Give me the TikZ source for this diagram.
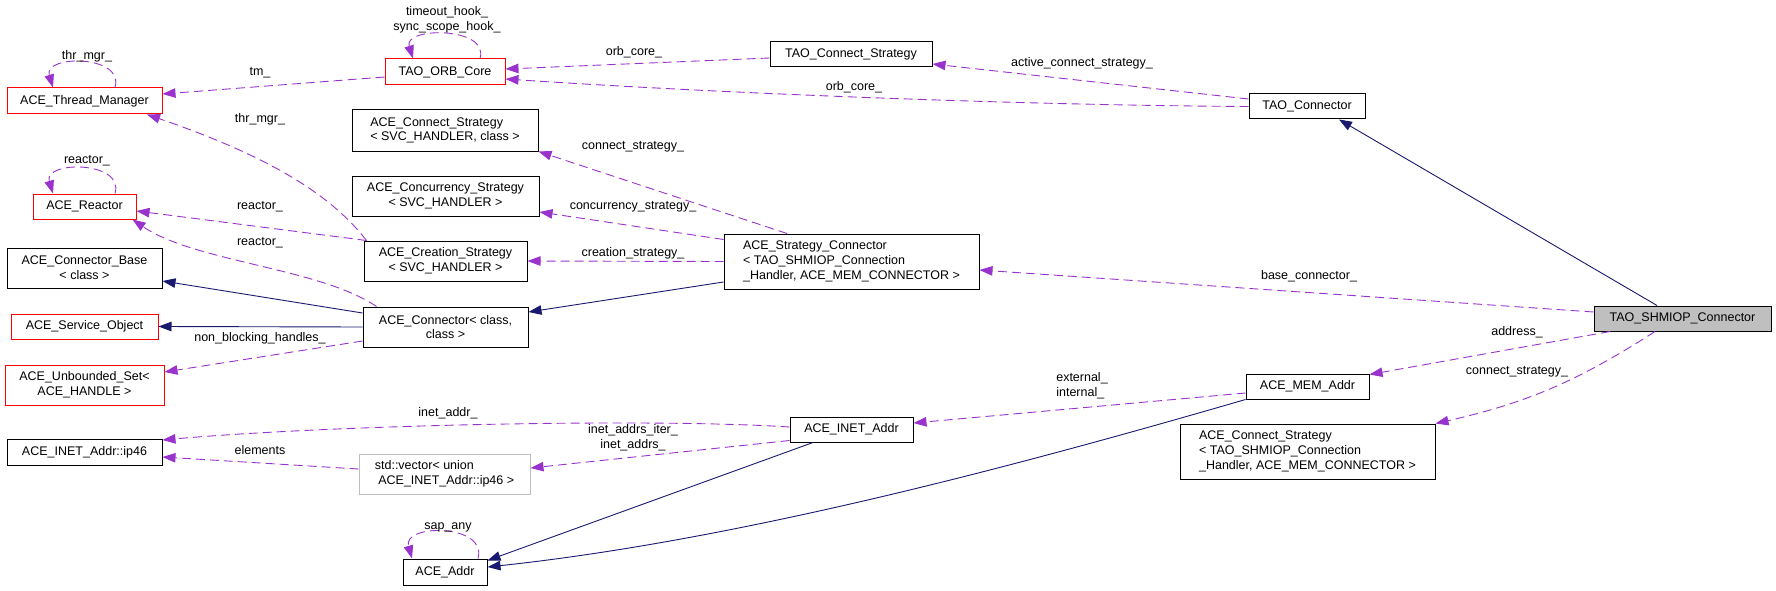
\documentclass[tikz,border=0pt]{standalone}
\usepackage{fontspec}
\setmainfont{Liberation Sans}
\usepackage{tikz}
\usetikzlibrary{arrows.meta}

\definecolor{orchid}{HTML}{9A32CD}
\definecolor{midnight}{HTML}{191970}
\definecolor{greybox}{HTML}{BFBFBF}

\tikzset{
  cls/.style={draw=black, line width=1pt, minimum height=25pt, inner sep=2pt, font=\fontsize{12.5}{14.7}\selectfont},
  redcls/.style={cls, draw=red},
  greycls/.style={cls, draw=greybox},
  dep/.style={draw=orchid, line width=0.9pt, dash pattern=on 9pt off 5pt, -{Triangle[length=13pt,width=9.5pt]}},
  inh/.style={draw=midnight, line width=0.9pt, -{Triangle[length=13pt,width=9.5pt]}},
  lbl/.style={inner sep=0pt, align=center, font=\fontsize{12.5}{14.7}\selectfont}
}

\begin{document}
\begin{tikzpicture}[x=1pt, y=-1pt]

\useasboundingbox (0,0) rectangle (1776,591);

% classes, left column
\node[redcls, minimum width=155pt, minimum height=26pt] (tm) at (84.5,101) {ACE\_Thread\_Manager};
\node[redcls, minimum width=103pt] (react) at (84.5,206.5) {ACE\_Reactor};
\node[cls, minimum width=155pt, minimum height=40pt, align=center] (base) at (84.5,268) {ACE\_Connector\_Base\\< class >};
\node[redcls, minimum width=147pt] (svc) at (84.5,326.5) {ACE\_Service\_Object};
\node[redcls, minimum width=159pt, minimum height=40pt, align=center] (uset) at (84.5,385) {ACE\_Unbounded\_Set<\\ACE\_HANDLE >};
\node[cls, minimum width=155pt, minimum height=26pt] (ip46) at (84.5,452) {ACE\_INET\_Addr::ip46};

% second column
\node[redcls, minimum width=120pt, minimum height=26pt] (orb) at (445,72) {TAO\_ORB\_Core};
\node[cls, minimum width=186pt, minimum height=41pt, align=left] (acs) at (445,130.5) {ACE\_Connect\_Strategy\\< SVC\_HANDLER, class >};
\node[cls, minimum width=187pt, minimum height=40pt, align=center] (aconc) at (445.5,196) {ACE\_Concurrency\_Strategy\\< SVC\_HANDLER >};
\node[cls, minimum width=163pt, minimum height=40pt, align=center] (acre) at (445.5,261) {ACE\_Creation\_Strategy\\< SVC\_HANDLER >};
\node[cls, minimum width=165pt, minimum height=40pt, align=center] (acon) at (445.5,327) {ACE\_Connector< class,\\class >};
\node[greycls, minimum width=171pt, minimum height=40pt, align=left] (vec) at (444.5,474) {std::vector< union\\\ ACE\_INET\_Addr::ip46 >};
\node[cls, minimum width=84pt, minimum height=26pt] (addr) at (445,572) {ACE\_Addr};

% third column
\node[cls, minimum width=162pt] (tcs) at (851,54.5) {TAO\_Connect\_Strategy};
\node[cls, minimum width=255pt, minimum height=55pt, align=left] (strat) at (851.5,261.5) {ACE\_Strategy\_Connector\\< TAO\_SHMIOP\_Connection\\\_Handler, ACE\_MEM\_CONNECTOR >};
\node[cls, minimum width=123pt] (inet) at (851.5,429.5) {ACE\_INET\_Addr};

% fourth and fifth column
\node[cls, minimum width=116pt] (tcon) at (1307,106.5) {TAO\_Connector};
\node[cls, minimum width=123pt] (mem) at (1307.5,386.5) {ACE\_MEM\_Addr};
\node[cls, minimum width=255pt, minimum height=55pt, align=left] (bcs) at (1307.5,451.5) {ACE\_Connect\_Strategy\\< TAO\_SHMIOP\_Connection\\\_Handler, ACE\_MEM\_CONNECTOR >};
\node[cls, fill=greybox, minimum width=177pt] (shm) at (1682.5,318.5) {TAO\_SHMIOP\_Connector};

% self loops
\draw[dep] ([xshift=30.5pt]tm.north) .. controls +(10,-33) and +(-10,-33) .. ([xshift=-31.5pt]tm.north);
\draw[dep] ([xshift=30.5pt]react.north) .. controls +(10,-33) and +(-10,-33) .. ([xshift=-31.5pt]react.north);
\draw[dep] ([xshift=35pt]orb.north) .. controls +(10,-32) and +(-10,-32) .. ([xshift=-32pt]orb.north);
\draw[dep] ([xshift=33pt]addr.north) .. controls +(10,-35) and +(-10,-35) .. ([xshift=-33pt]addr.north);

% members
\draw[dep] ([yshift=-5pt]orb.west) -- ([yshift=7pt]tm.east);
\draw[dep] ([yshift=-3.5pt]tcs.west) -- ([yshift=3pt]orb.east);
\draw[dep] (tcon.west) .. controls (1000,105) and (700,92) .. ([yshift=-7pt]orb.east);
\draw[dep] ([yshift=7.5pt]tcon.west) -- ([yshift=-9.5pt]tcs.east);
\draw[dep] ([yshift=6.5pt]shm.west) -- ([yshift=-8.5pt]strat.east);
\draw[dep] ([xshift=-72.5pt]shm.south) -- ([yshift=-1pt]mem.north east);
\draw[dep] ([xshift=-27.5pt]shm.south) to[bend left=10] (bcs.north east);
\draw[dep] ([xshift=-64.5pt]strat.north) -- (acs.south east);
\draw[dep] ([yshift=-6pt]strat.north west) -- ([yshift=-16pt]aconc.east);
\draw[dep] (strat.west) -- (acre.east);
\draw[dep] ([yshift=-14pt]acon.west) -- ([yshift=13pt]uset.east);
\draw[dep] ([xshift=3pt]acre.north west) -- ([yshift=-4.5pt]react.east);
\draw[dep] ([xshift=14pt]acon.north west) .. controls (320,268) and (195,262) .. ([xshift=-4pt]react.south east);
\draw[dep] ([xshift=3pt]acre.north west) .. controls (335,200) and (280,160) .. ([xshift=62.5pt]tm.south);
\draw[dep] ([yshift=-6.5pt]mem.west) -- ([yshift=6.5pt]inet.east);
\draw[dep] ([yshift=2.5pt]inet.west) .. controls (650,418) and (330,425) .. ([yshift=12pt]ip46.east);
\draw[dep] ([yshift=2pt]inet.south west) -- ([yshift=6pt]vec.east);
\draw[dep] ([yshift=5pt]vec.west) -- ([yshift=-5pt]ip46.east);

% inheritance
\draw[inh] ([xshift=-25.5pt]shm.north) -- ([xshift=32pt]tcon.south);
\draw[inh] ([yshift=-20.5pt]strat.west) -- ([yshift=15pt]acon.east);
\draw[inh] ([yshift=14pt]acon.west) -- ([yshift=-13pt]base.east);
\draw[inh] (acon.west) -- (svc.east);
\draw[inh] ([xshift=-38.5pt]inet.south) -- ([yshift=-2pt]addr.north east);
\draw[inh] (mem.south west) .. controls (1020,465) and (740,540) .. ([yshift=5pt]addr.east);

% labels
\node[lbl] (l-thr) at (87,56) {thr\_mgr\_};
\node[lbl] (l-reac) at (87,161) {reactor\_};
\node[lbl] (l-hook) at (447,19.5) {timeout\_hook\_\\sync\_scope\_hook\_};
\node[lbl] (l-sap) at (448,527) {sap\_any};
\node[lbl] (l-tm) at (260,73) {tm\_};
\node[lbl] (l-orb1) at (634,52) {orb\_core\_};
\node[lbl] (l-orb2) at (854,87) {orb\_core\_};
\node[lbl] (l-act) at (1082,63) {active\_connect\_strategy\_};
\node[lbl] (l-base) at (1309,276) {base\_connector\_};
\node[lbl] (l-addr) at (1517,332) {address\_};
\node[lbl] (l-cs2) at (1517,372) {connect\_strategy\_};
\node[lbl] (l-cs1) at (633,147) {connect\_strategy\_};
\node[lbl] (l-conc) at (633,207) {concurrency\_strategy\_};
\node[lbl] (l-cre) at (633,253) {creation\_strategy\_};
\node[lbl] (l-thr2) at (260,119) {thr\_mgr\_};
\node[lbl] (l-reac1) at (260,207) {reactor\_};
\node[lbl] (l-reac2) at (260,243) {reactor\_};
\node[lbl] (l-nbh) at (260,338) {non\_blocking\_handles\_};
\node[lbl, align=left] (l-ext) at (1082,385.5) {external\_\\internal\_};
\node[lbl] (l-inet) at (448,413) {inet\_addr\_};
\node[lbl] (l-iters) at (633,438) {inet\_addrs\_iter\_\\inet\_addrs\_};
\node[lbl] (l-elem) at (260,450) {elements};

\end{tikzpicture}
\end{document}
